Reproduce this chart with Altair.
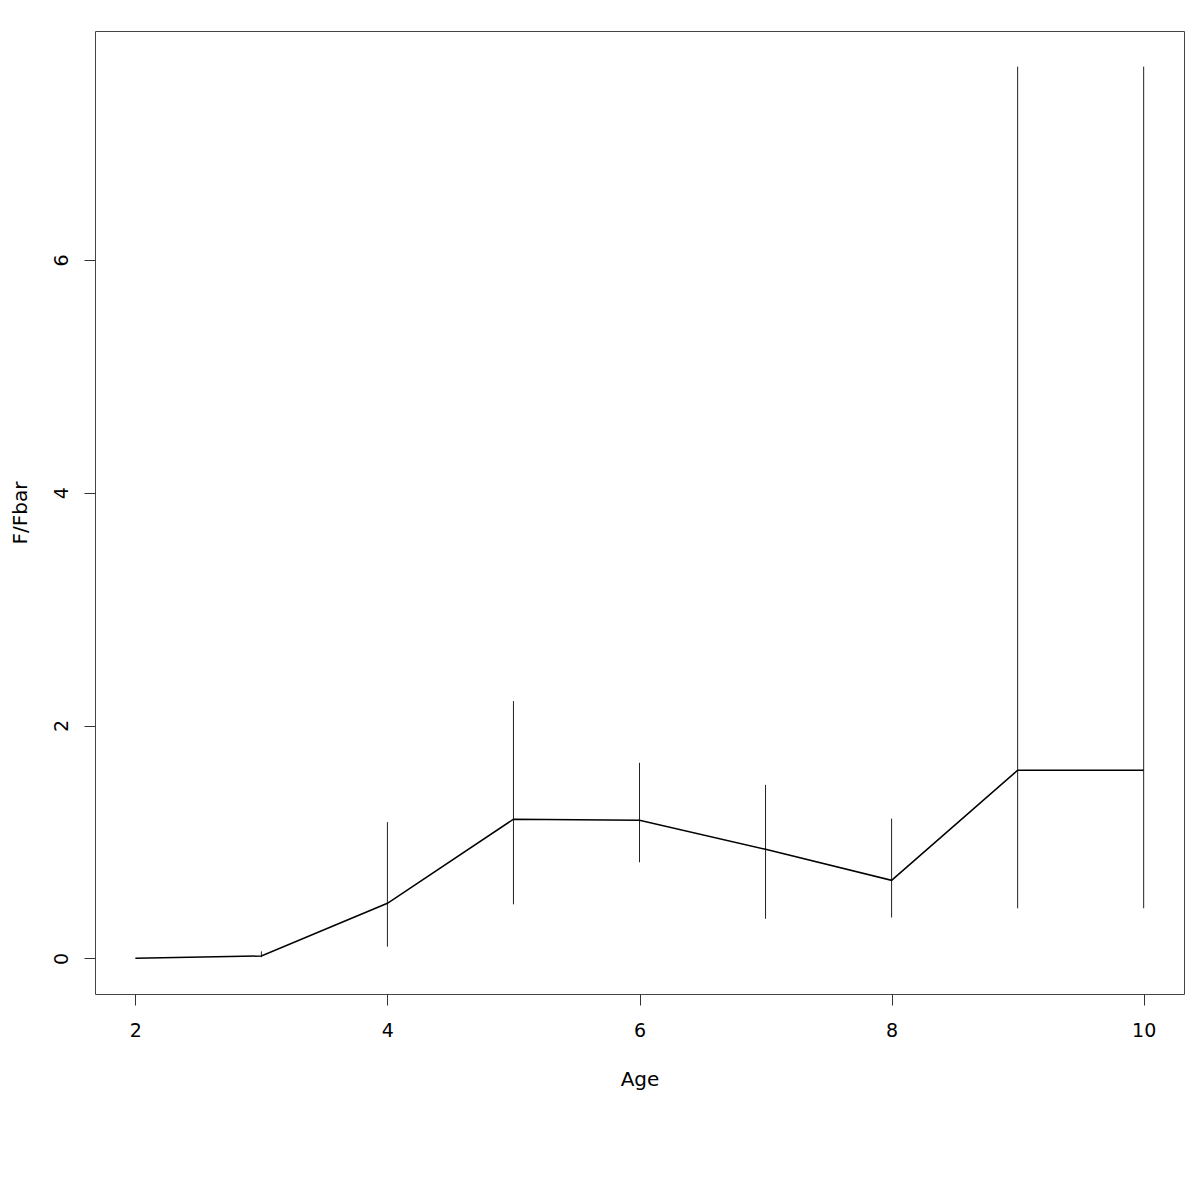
import altair as alt
import pandas as pd

ages = [2, 3, 4, 5, 6, 7, 8, 9, 10]
ratio = [0.0, 0.02, 0.473, 1.195, 1.186, 0.937, 0.67, 1.616, 1.616]
lower = [0.0, 0.01, 0.10, 0.464, 0.825, 0.34, 0.35, 0.43, 0.43]
upper = [0.0, 0.06, 1.17, 2.21, 1.68, 1.49, 1.20, 7.66, 7.66]

df = pd.DataFrame({"Age": ages, "ratio": ratio, "lo": lower, "hi": upper})
bars_df = df[df["hi"] > df["lo"]]

font = "DejaVu Sans"
fs = 19
tfs = 20
xs = alt.Scale(domain=[1.68, 10.32], nice=False, zero=False)
ys = alt.Scale(domain=[-0.3064, 7.966], nice=False, zero=False)

xaxis = alt.Axis(values=[2, 4, 6, 8, 10], format="d", title="Age", grid=False, domain=False,
                 tickSize=11, tickColor="#333", labelPadding=16, labelFontSize=fs,
                 labelFont=font, labelColor="#000", titleFont=font, titleFontSize=tfs,
                 titleFontWeight="normal", titleColor="#000", titlePadding=29)
yaxis = alt.Axis(values=[0, 2, 4, 6], format="d", title="F/Fbar", grid=False, domain=False,
                 tickSize=11, tickColor="#333", labelPadding=13, labelFontSize=fs,
                 labelAngle=270, labelAlign="center", labelBaseline="bottom",
                 labelFont=font, labelColor="#000", titleFont=font, titleFontSize=tfs,
                 titleFontWeight="normal", titleColor="#000", titlePadding=22)

line = alt.Chart(df).mark_line(color="#000", strokeWidth=1.5).encode(
    x=alt.X("Age:Q", scale=xs, axis=xaxis),
    y=alt.Y("ratio:Q", scale=ys, axis=yaxis),
)
err = alt.Chart(bars_df).mark_rule(color="#222", strokeWidth=1).encode(
    x=alt.X("Age:Q", scale=xs),
    y=alt.Y("lo:Q", scale=ys),
    y2="hi:Q",
)

chart = alt.layer(err, line).properties(
    width=1089, height=963,
    background="white",
    autosize=alt.AutoSizeParams(type="none"),
    padding={"left": 87, "top": 23, "right": 8, "bottom": 180},
).configure_view(stroke="#444", strokeWidth=1)

chart.save("out.html", embed_options={"renderer": "svg", "actions": False})
